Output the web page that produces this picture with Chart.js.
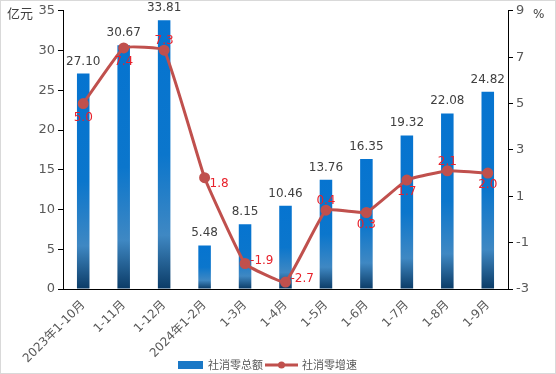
<!DOCTYPE html>
<html>
<head>
<meta charset="utf-8">
<script src="https://cdn.jsdelivr.net/npm/chart.js@4.4.1/dist/chart.umd.min.js"></script>
<style>
  html, body { margin: 0; padding: 0; background: #fff; }
  #wrap { width: 556px; height: 374px; position: relative; }
</style>
</head>
<body>
<div id="wrap"><canvas id="c" width="556" height="374"></canvas></div>
<script>
// data
const categories = ['2023年1-10月', '1-11月', '1-12月', '2024年1-2月', '1-3月', '1-4月', '1-5月', '1-6月', '1-7月', '1-8月', '1-9月'];
const totalSales = [27.10, 30.67, 33.81, 5.48, 8.15, 10.46, 13.76, 16.35, 19.32, 22.08, 24.82];
const growthRate = [5.0, 7.4, 7.3, 1.8, -1.9, -2.7, 0.4, 0.3, 1.7, 2.1, 2.0];
const leftTicks = [0, 5, 10, 15, 20, 25, 30, 35];
const rightTicks = [-3, -1, 1, 3, 5, 7, 9];

// where each growth label sits relative to its point
const growthLabelPos = ['below', 'below', 'above', 'right', 'right', 'right', 'above', 'below', 'below', 'above', 'below'];

const FONT = '"DejaVu Sans", "Noto Sans CJK SC", sans-serif';
const CJK = '"Noto Sans CJK SC", "DejaVu Sans", sans-serif';

function barGradient(ctx) {
  const chart = ctx.chart;
  if (!chart.chartArea || ctx.type !== 'data') return '#0674d0';
  const y = chart.scales.y;
  const top = y.getPixelForValue(ctx.raw);
  const bottom = y.getPixelForValue(0);
  const g = chart.ctx.createLinearGradient(0, top, 0, bottom);
  g.addColorStop(0, '#0674d0');
  g.addColorStop(0.5, '#0b76cc');
  g.addColorStop(0.8, '#3f88c3');
  g.addColorStop(1, '#0b3b66');
  return g;
}

const frame = {
  id: 'frame',
  beforeDraw(chart) {
    const c = chart.ctx;
    c.save();
    c.fillStyle = '#fff';
    c.fillRect(0, 0, chart.width, chart.height);
    c.strokeStyle = '#d9d9d9';
    c.lineWidth = 1;
    c.strokeRect(0.5, 0.5, chart.width - 1, chart.height - 1);
    c.restore();
  }
};

const labels = {
  id: 'labels',
  afterDatasetsDraw(chart) {
    const c = chart.ctx;
    c.save();
    // bar values
    c.font = '12px ' + FONT;
    c.fillStyle = '#404040';
    c.textAlign = 'center';
    c.textBaseline = 'alphabetic';
    chart.getDatasetMeta(0).data.forEach((el, i) => {
      c.fillText(totalSales[i].toFixed(2), el.x, el.y - 9);
    });
    // growth values
    c.fillStyle = '#e8212b';
    c.textBaseline = 'middle';
    chart.getDatasetMeta(1).data.forEach((el, i) => {
      const pos = growthLabelPos[i];
      const txt = growthRate[i].toFixed(1);
      if (pos === 'right') {
        c.textAlign = 'left';
        c.fillText(txt, el.x + 5, el.y + (i === 3 ? 6 : -3));
      } else if (pos === 'above') {
        c.textAlign = 'center';
        c.fillText(txt, el.x, el.y - 9);
      } else {
        c.textAlign = 'center';
        c.fillText(txt, el.x, el.y + (i < 2 ? 14 : 12));
      }
    });
    c.restore();
  },
  afterDraw(chart) {
    const c = chart.ctx;
    c.save();
    // axis units
    c.fillStyle = '#404040';
    c.font = '13px ' + CJK;
    c.textBaseline = 'middle';
    c.textAlign = 'left';
    c.fillText('亿元', 7, 13);
    c.font = '12px ' + FONT;
    c.fillText('%', 533, 15);
    // legend
    const ly = 365;
    c.fillStyle = '#1a78c6';
    c.fillRect(178, ly - 4, 25, 8);
    c.fillStyle = '#595959';
    c.font = '11px ' + CJK;
    c.fillText('社消零总额', 208, ly);
    c.strokeStyle = '#c0504d';
    c.lineWidth = 3;
    c.beginPath();
    c.moveTo(265, ly);
    c.lineTo(298, ly);
    c.stroke();
    c.fillStyle = '#c0504d';
    c.beginPath();
    c.arc(281.5, ly, 3.5, 0, Math.PI * 2);
    c.fill();
    c.fillStyle = '#595959';
    c.fillText('社消零增速', 302, ly);
    c.restore();
  }
};

new Chart(document.getElementById('c'), {
  type: 'bar',
  data: {
    labels: categories,
    datasets: [{
      type: 'bar',
      label: '社消零总额',
      data: totalSales,
      yAxisID: 'y',
      backgroundColor: barGradient,
      categoryPercentage: 1,
      barPercentage: 0.31,
      order: 2
    }, {
      type: 'line',
      label: '社消零增速',
      data: growthRate,
      yAxisID: 'y1',
      borderColor: '#c0504d',
      backgroundColor: '#c0504d',
      borderWidth: 3,
      pointRadius: 4,
      pointBackgroundColor: '#c0504d',
      pointBorderColor: '#c0504d',
      tension: 0.1,
      clip: false,
      order: 1
    }]
  },
  options: {
    responsive: false,
    animation: false,
    layout: { padding: { top: 10, left: 0, right: 0, bottom: 0 } },
    plugins: {
      legend: { display: false },
      tooltip: { enabled: false }
    },
    scales: {
      x: {
        grid: { display: true, drawOnChartArea: false, drawTicks: false },
        border: { display: true, color: '#000', width: 1 },
        ticks: {
          color: '#595959',
          font: { family: FONT, size: 12 },
          minRotation: 45,
          maxRotation: 45,
          padding: 9,
          autoSkip: false
        },
        afterFit(scale) { scale.height = 85; }
      },
      y: {
        position: 'left',
        min: 0,
        max: 35,
        afterBuildTicks(scale) { scale.ticks = leftTicks.map(v => ({ value: v })); },
        grid: { drawOnChartArea: false, drawTicks: true, tickLength: 5, color: '#000' },
        border: { display: true, color: '#000', width: 1 },
        ticks: { color: '#595959', font: { family: FONT, size: 13 }, padding: 3 },
        afterFit(scale) { scale.width = 63; }
      },
      y1: {
        position: 'right',
        min: -3,
        max: 9,
        afterBuildTicks(scale) { scale.ticks = rightTicks.map(v => ({ value: v })); },
        grid: { drawOnChartArea: false, drawTicks: true, tickLength: 5, color: '#000' },
        border: { display: true, color: '#000', width: 1 },
        ticks: { color: '#595959', font: { family: FONT, size: 13 }, padding: 3 },
        afterFit(scale) { scale.width = 48; }
      }
    }
  },
  plugins: [frame, labels]
});
</script>
</body>
</html>
